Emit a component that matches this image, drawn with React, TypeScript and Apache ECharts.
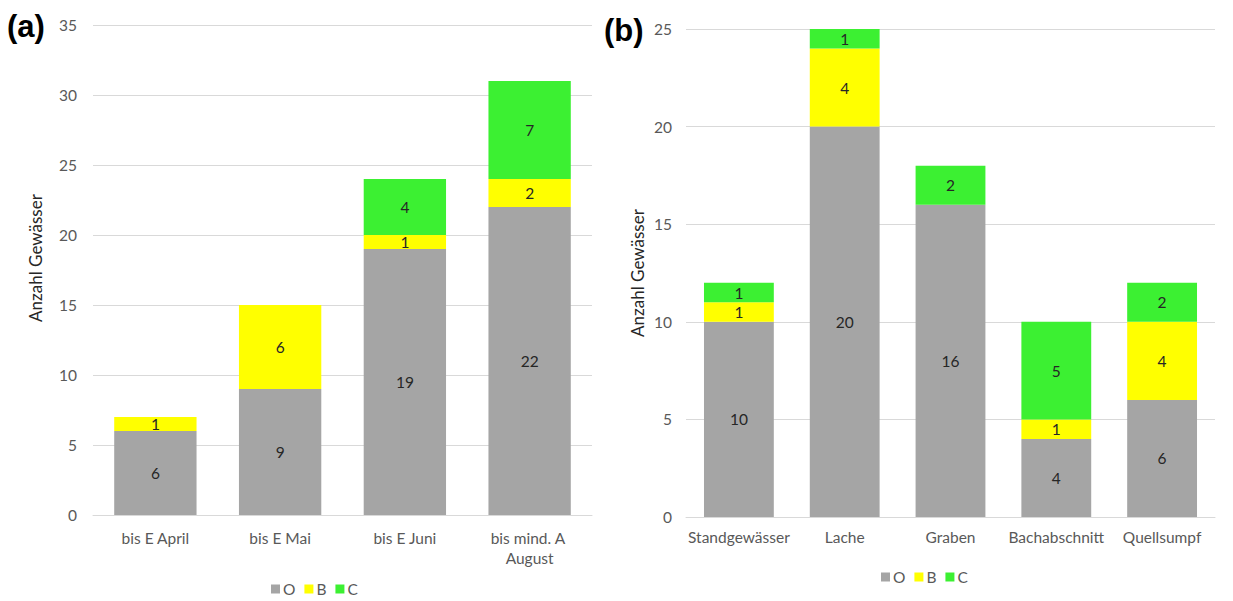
import React, { useEffect, useRef } from "react";
import * as echarts from "echarts";

// Panel (a): by survey period
const periods = ["bis E April", "bis E Mai", "bis E Juni", "bis mind. A August"];
const periodO = [6, 9, 19, 22];
const periodB = [1, 6, 1, 2];
const periodC = [0, 0, 4, 7];

// Panel (b): by water body type
const waterTypes = ["Standgewässer", "Lache", "Graben", "Bachabschnitt", "Quellsumpf"];
const typeO = [10, 20, 16, 4, 6];
const typeB = [1, 4, 0, 1, 4];
const typeC = [1, 1, 2, 5, 2];

const seriesNames = ["O", "B", "C"];
const colors = ["#A5A5A5", "#FFFF00", "#3CF032"];

const FONT = "Lato, 'Open Sans', sans-serif";
const TXT = "#595959";
const FS = 15.5;

export default function App() {
  const ref = useRef<HTMLDivElement>(null);

  useEffect(() => {
    if (!ref.current) return;
    const chart = echarts.init(ref.current, undefined, { renderer: "svg" });

    const label = {
      show: true,
      position: "inside",
      color: "#262626",
      fontSize: FS,
      fontFamily: FONT,
      formatter: (p: any) => (p.value ? String(p.value) : ""),
    };

    const makeSeries = (data: number[][], axis: number, stack: string) =>
      data.map((d, i) => ({
        name: seriesNames[i],
        type: "bar",
        stack,
        xAxisIndex: axis,
        yAxisIndex: axis,
        barWidth: "66%",
        itemStyle: { color: colors[i] },
        label,
        data: d,
      }));

    const yAxisBase = {
      type: "value",
      min: 0,
      interval: 5,
      axisLine: { show: false },
      axisTick: { show: false },
      splitLine: { lineStyle: { color: "#D9D9D9", width: 1 } },
      axisLabel: { color: TXT, fontSize: FS, fontFamily: FONT },
    };

    const xAxisBase = {
      type: "category",
      axisLine: { lineStyle: { color: "#D9D9D9", width: 1 } },
      axisTick: { show: false },
    };

    const legendBase = {
      data: seriesNames,
      icon: "rect",
      itemWidth: 9,
      itemHeight: 9,
      itemGap: 9,
      padding: 0,
      textStyle: { color: TXT, fontSize: FS, fontFamily: FONT, padding: [0, 0, 0, -2] },
    };

    chart.setOption({
      animation: false,
      textStyle: { fontFamily: FONT },
      grid: [
        { left: 93, right: 641, top: 25, bottom: 86 },
        { left: 686, right: 18, top: 29, bottom: 84 },
      ],
      xAxis: [
        {
          ...xAxisBase,
          gridIndex: 0,
          data: periods,
          axisLabel: {
            color: TXT,
            fontSize: FS,
            fontFamily: FONT,
            margin: 13,
            width: 100,
            overflow: "break",
            lineHeight: 20,
            interval: 0,
          },
        },
        {
          ...xAxisBase,
          gridIndex: 1,
          data: waterTypes,
          axisLabel: {
            color: TXT,
            fontSize: FS,
            fontFamily: FONT,
            margin: 12,
            interval: 0,
          },
        },
      ],
      yAxis: [
        { ...yAxisBase, gridIndex: 0, max: 35, axisLabel: { ...yAxisBase.axisLabel, margin: 16 } },
        { ...yAxisBase, gridIndex: 1, max: 25, axisLabel: { ...yAxisBase.axisLabel, margin: 14 } },
      ],
      legend: [
        { ...legendBase, left: 271, top: 581 },
        { ...legendBase, left: 881, top: 569 },
      ],
      graphic: [
        {
          type: "text",
          left: 7,
          top: 11,
          style: { text: "(a)", font: "bold 31px 'Liberation Sans', Arial, sans-serif", fill: "#000" },
        },
        {
          type: "text",
          left: 604,
          top: 15,
          style: { text: "(b)", font: "bold 31px 'Liberation Sans', Arial, sans-serif", fill: "#000" },
        },
        {
          type: "text",
          x: 35,
          y: 258,
          rotation: Math.PI / 2,
          style: {
            text: "Anzahl Gewässer",
            font: `17px ${FONT}`,
            fill: "#262626",
            align: "center",
            verticalAlign: "middle",
          },
        },
        {
          type: "text",
          x: 637,
          y: 273,
          rotation: Math.PI / 2,
          style: {
            text: "Anzahl Gewässer",
            font: `17px ${FONT}`,
            fill: "#262626",
            align: "center",
            verticalAlign: "middle",
          },
        },
      ],
      series: [
        ...makeSeries([periodO, periodB, periodC], 0, "a"),
        ...makeSeries([typeO, typeB, typeC], 1, "b"),
      ],
    });

    return () => chart.dispose();
  }, []);

  return (
    <div
      ref={ref}
      style={{ position: "absolute", left: 0, top: 0, width: 1233, height: 601, background: "#fff" }}
    />
  );
}
